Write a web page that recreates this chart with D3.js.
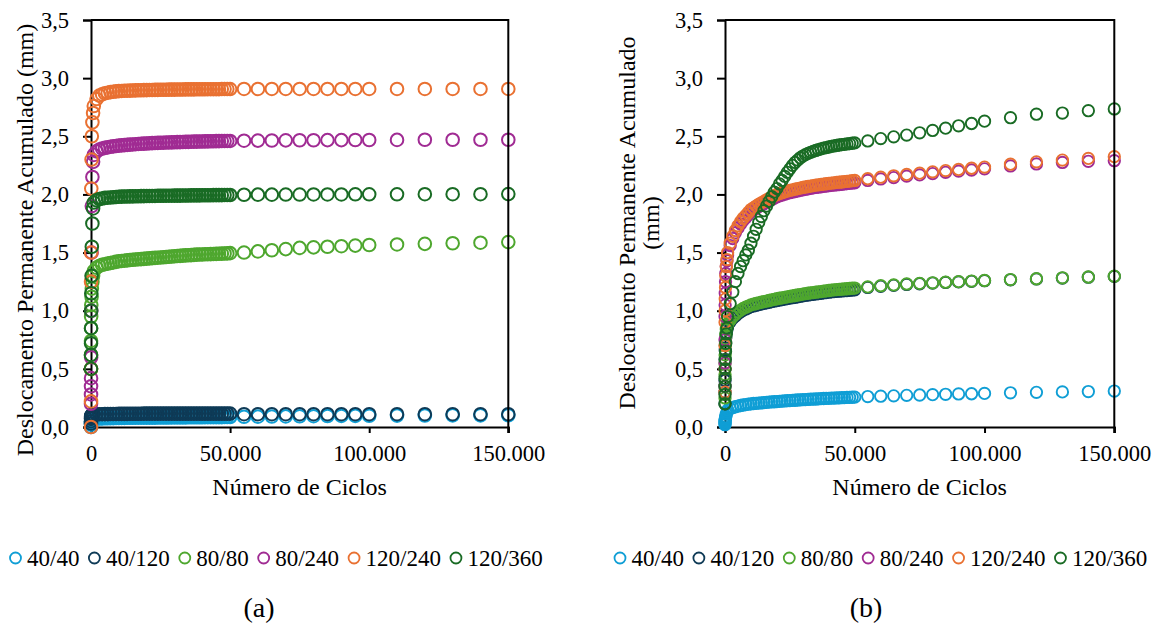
<!DOCTYPE html>
<html><head><meta charset="utf-8">
<script src="https://cdn.jsdelivr.net/npm/d3@7"></script>
<style>
body{margin:0;background:#fff}
svg{display:block}
text{font-family:"Liberation Serif","Times New Roman",serif;fill:#000}
</style>
</head><body>
<svg id="chart" width="1160" height="634"></svg>
<script>
// ---------------- DATA ----------------
const cycles = [1,5,10,20,50,100,200,300,500,750,
 1000,2000,3000,4000,5000,6000,7000,8000,9000,10000,
 11000,12000,13000,14000,15000,16000,17000,18000,19000,20000,
 21000,22000,23000,24000,25000,26000,27000,28000,29000,30000,
 31000,32000,33000,34000,35000,36000,37000,38000,39000,40000,
 41000,42000,43000,44000,45000,46000,47000,48000,49000,50000,
 55000,60000,65000,70000,75000,80000,85000,90000,95000,100000,
 110000,120000,130000,140000,150000];

const seriesNames = ["40/40","40/120","80/80","80/240","120/240","120/360"];
const seriesColors = ["#0F9ED5","#0E3A56","#4EA72E","#A02B93","#E97132","#196B24"];

// panel (a)
const a_40_40 = [0.00,0.02,0.03,0.04,0.05,0.055,0.06,0.062,0.065,0.068,
 0.070,0.072,0.073,0.074,0.075,0.075,0.076,0.076,0.077,0.077,
 0.078,0.078,0.079,0.079,0.079,0.080,0.080,0.080,0.080,0.081,
 0.081,0.081,0.081,0.082,0.082,0.082,0.082,0.082,0.083,0.083,
 0.083,0.083,0.083,0.083,0.084,0.084,0.084,0.084,0.084,0.084,
 0.085,0.085,0.085,0.085,0.085,0.085,0.085,0.086,0.086,0.086,
 0.088,0.089,0.090,0.091,0.092,0.093,0.094,0.095,0.096,0.097,
 0.098,0.099,0.100,0.100,0.101];
const a_40_120 = [0.03,0.05,0.07,0.08,0.09,0.095,0.10,0.102,0.105,0.107,
 0.108,0.109,0.110,0.110,0.111,0.111,0.112,0.112,0.112,0.113,
 0.113,0.113,0.113,0.114,0.114,0.114,0.114,0.114,0.115,0.115,
 0.115,0.115,0.115,0.115,0.115,0.115,0.115,0.115,0.115,0.115,
 0.115,0.115,0.115,0.115,0.115,0.115,0.115,0.115,0.115,0.115,
 0.115,0.115,0.115,0.115,0.115,0.115,0.115,0.115,0.115,0.115,
 0.110,0.110,0.110,0.110,0.110,0.110,0.110,0.110,0.110,0.110,
 0.110,0.110,0.110,0.110,0.110];
const a_80_80 = [0.50,0.62,0.74,0.85,0.95,1.05,1.12,1.19,1.25,1.30,
 1.340,1.370,1.385,1.395,1.400,1.405,1.410,1.415,1.420,1.425,
 1.428,1.430,1.433,1.436,1.438,1.440,1.442,1.444,1.446,1.448,
 1.450,1.452,1.454,1.456,1.458,1.460,1.462,1.464,1.466,1.468,
 1.470,1.472,1.474,1.476,1.477,1.478,1.480,1.482,1.483,1.484,
 1.485,1.486,1.487,1.488,1.489,1.490,1.491,1.492,1.493,1.495,
 1.500,1.510,1.520,1.530,1.540,1.545,1.550,1.555,1.560,1.565,
 1.570,1.575,1.580,1.585,1.590];
const a_80_240 = [0.20,0.28,0.35,0.42,0.60,1.00,1.50,1.90,2.15,2.28,
 2.340,2.370,2.385,2.395,2.400,2.405,2.410,2.413,2.416,2.420,
 2.422,2.424,2.426,2.428,2.430,2.432,2.434,2.436,2.437,2.438,
 2.440,2.441,2.442,2.443,2.444,2.445,2.446,2.447,2.448,2.449,
 2.450,2.450,2.451,2.452,2.452,2.453,2.454,2.454,2.455,2.455,
 2.456,2.456,2.457,2.457,2.458,2.458,2.459,2.459,2.460,2.460,
 2.462,2.463,2.464,2.465,2.466,2.466,2.467,2.467,2.468,2.468,
 2.469,2.470,2.470,2.470,2.470];
const a_120_240 = [0.00,0.22,0.50,1.25,1.50,2.05,2.30,2.50,2.62,2.70,
 2.760,2.820,2.850,2.860,2.870,2.875,2.880,2.883,2.886,2.888,
 2.890,2.891,2.892,2.893,2.894,2.895,2.896,2.896,2.897,2.897,
 2.898,2.898,2.899,2.899,2.900,2.900,2.900,2.901,2.901,2.901,
 2.902,2.902,2.902,2.903,2.903,2.903,2.903,2.904,2.904,2.904,
 2.904,2.905,2.905,2.905,2.905,2.905,2.906,2.906,2.906,2.906,
 2.907,2.907,2.907,2.907,2.907,2.907,2.907,2.907,2.907,2.907,
 2.907,2.907,2.907,2.907,2.907];
const a_120_360 = [0.50,0.62,0.72,0.85,1.00,1.15,1.30,1.55,1.75,1.88,
 1.930,1.950,1.960,1.965,1.970,1.972,1.974,1.976,1.978,1.980,
 1.981,1.982,1.982,1.983,1.983,1.984,1.984,1.985,1.985,1.986,
 1.986,1.987,1.987,1.988,1.988,1.988,1.989,1.989,1.989,1.990,
 1.990,1.990,1.991,1.991,1.991,1.992,1.992,1.992,1.992,1.993,
 1.993,1.993,1.993,1.994,1.994,1.994,1.994,1.995,1.995,1.995,
 1.997,1.998,1.998,1.999,1.999,2.000,2.000,2.000,2.001,2.001,
 2.001,2.002,2.002,2.002,2.003];

// panel (b)
const b_40_40 = [0.02,0.03,0.04,0.05,0.06,0.07,0.08,0.09,0.11,0.13,
 0.145,0.158,0.167,0.174,0.180,0.185,0.189,0.193,0.196,0.199,
 0.202,0.204,0.206,0.208,0.210,0.212,0.214,0.216,0.217,0.219,
 0.221,0.223,0.224,0.226,0.227,0.229,0.230,0.232,0.233,0.235,
 0.236,0.237,0.239,0.240,0.241,0.242,0.244,0.245,0.246,0.247,
 0.248,0.249,0.250,0.251,0.252,0.253,0.254,0.255,0.256,0.257,
 0.262,0.265,0.268,0.272,0.275,0.278,0.281,0.284,0.286,0.289,
 0.294,0.298,0.302,0.305,0.309];
const b_40_120 = [0.20,0.30,0.40,0.50,0.58,0.66,0.72,0.77,0.81,0.84,
 0.865,0.905,0.935,0.955,0.975,0.990,1.005,1.015,1.025,1.035,
 1.041,1.047,1.053,1.058,1.063,1.068,1.073,1.078,1.083,1.088,
 1.092,1.096,1.100,1.104,1.108,1.112,1.116,1.120,1.124,1.128,
 1.132,1.135,1.138,1.141,1.144,1.147,1.150,1.153,1.156,1.159,
 1.162,1.164,1.166,1.168,1.170,1.172,1.174,1.176,1.178,1.180,
 1.200,1.210,1.218,1.226,1.232,1.238,1.243,1.248,1.253,1.258,
 1.266,1.273,1.281,1.288,1.295];
const b_80_80 = [0.25,0.35,0.45,0.55,0.62,0.70,0.76,0.80,0.84,0.87,
 0.880,0.920,0.950,0.970,0.990,1.005,1.020,1.030,1.040,1.050,
 1.056,1.062,1.068,1.073,1.078,1.083,1.088,1.093,1.098,1.103,
 1.107,1.111,1.115,1.119,1.123,1.127,1.131,1.135,1.139,1.143,
 1.147,1.150,1.153,1.156,1.159,1.162,1.165,1.168,1.171,1.174,
 1.177,1.179,1.181,1.183,1.185,1.187,1.189,1.191,1.193,1.195,
 1.205,1.215,1.222,1.230,1.235,1.240,1.245,1.250,1.255,1.260,
 1.268,1.275,1.283,1.290,1.297];
const b_80_240 = [0.35,0.55,0.75,0.95,1.05,1.15,1.25,1.32,1.38,1.43,
 1.480,1.560,1.620,1.670,1.710,1.745,1.775,1.800,1.825,1.850,
 1.865,1.880,1.895,1.908,1.920,1.933,1.945,1.957,1.969,1.980,
 1.988,1.995,2.002,2.009,2.015,2.020,2.025,2.030,2.035,2.040,
 2.044,2.048,2.052,2.056,2.060,2.063,2.066,2.069,2.072,2.075,
 2.078,2.080,2.083,2.085,2.087,2.090,2.093,2.095,2.098,2.100,
 2.120,2.133,2.145,2.157,2.168,2.179,2.190,2.200,2.210,2.220,
 2.245,2.262,2.275,2.285,2.290];
const b_120_240 = [0.30,0.50,0.70,0.90,1.00,1.10,1.20,1.30,1.38,1.44,
 1.500,1.580,1.640,1.690,1.730,1.765,1.795,1.820,1.845,1.870,
 1.885,1.900,1.915,1.928,1.940,1.953,1.965,1.977,1.989,2.000,
 2.008,2.015,2.022,2.029,2.035,2.040,2.045,2.050,2.055,2.060,
 2.064,2.068,2.072,2.076,2.080,2.083,2.086,2.089,2.092,2.095,
 2.098,2.100,2.103,2.105,2.107,2.110,2.113,2.115,2.118,2.120,
 2.135,2.148,2.160,2.172,2.183,2.194,2.205,2.215,2.225,2.235,
 2.260,2.280,2.295,2.310,2.325];
const b_120_360 = [0.20,0.28,0.35,0.42,0.50,0.58,0.65,0.72,0.80,0.85,
 0.950,1.060,1.160,1.250,1.320,1.380,1.430,1.480,1.520,1.580,
 1.640,1.700,1.760,1.810,1.860,1.900,1.940,1.980,2.020,2.050,
 2.090,2.120,2.155,2.190,2.220,2.250,2.275,2.295,2.315,2.330,
 2.342,2.353,2.362,2.370,2.378,2.385,2.392,2.398,2.403,2.408,
 2.413,2.417,2.421,2.425,2.428,2.431,2.434,2.437,2.440,2.443,
 2.460,2.480,2.495,2.510,2.530,2.550,2.570,2.590,2.610,2.630,
 2.660,2.690,2.700,2.720,2.735];

const yTicks = [0,0.5,1,1.5,2,2.5,3,3.5];
const xTicks = [0,50000,100000,150000];
const xTitle = "Número de Ciclos";
const yTitleA = ["Deslocamento Permanente Acumulado (mm)"];
const yTitleB = ["Deslocamento Permanente Acumulado","(mm)"];
const captions = ["(a)","(b)"];

// ---------------- DRAW ----------------
const loc = d3.formatLocale({decimal:",", thousands:".", grouping:[3], currency:["",""]});
const fy = loc.format(".1f"), fx = loc.format(",d");
const svg = d3.select("#chart");

function panel(cfg){
  const x = d3.scaleLinear().domain([0,150000]).range([cfg.x0,cfg.x1]);
  const y = d3.scaleLinear().domain([0,3.5]).range([cfg.yB,cfg.yT]);
  const g = svg.append("g");

  // axes (under the points)
  const ay = g.append("g").attr("transform",`translate(${cfg.x0},0)`)
    .call(d3.axisLeft(y).tickValues(yTicks).tickFormat(fy).tickSize(8).tickPadding(14));
  const ax = g.append("g").attr("transform",`translate(0,${cfg.yB})`)
    .call(d3.axisBottom(x).tickValues(xTicks).tickFormat(fx).tickSize(6).tickPadding(12.5));
  [ay,ax].forEach(a=>{
    a.selectAll("path.domain").attr("stroke","#000").attr("stroke-width",2);
    a.selectAll(".tick line").attr("stroke","#000").attr("stroke-width",2);
    a.selectAll(".tick text").attr("font-size","22.5px")
      .attr("font-family",'"Liberation Serif","Times New Roman",serif').attr("fill","#000");
  });

  // points
  cfg.series.forEach((vals,si)=>{
    g.append("g").selectAll("circle").data(vals).join("circle")
      .attr("cx",(d,i)=>x(cycles[i])).attr("cy",d=>y(d))
      .attr("r",cfg.r).attr("fill","none")
      .attr("stroke",seriesColors[si]).attr("stroke-width",cfg.sw);
  });

  // top & right border
  g.append("path").attr("d",`M${cfg.x0},${cfg.yT}H${cfg.x1}V${cfg.yB+6}`)
    .attr("fill","none").attr("stroke","#000").attr("stroke-width",2);

  // x title
  g.append("text").attr("x",(cfg.x0+cfg.x1)/2).attr("y",495)
    .attr("text-anchor","middle").attr("font-size","24px").text(xTitle);

  // y title
  cfg.yTitle.forEach((t,k)=>{
    g.append("text").attr("transform",`translate(${cfg.ytX[k]},${cfg.ytY}) rotate(-90)`)
      .attr("text-anchor","middle").attr("font-size","24px").text(t);
  });

  // legend
  let cx = cfg.legX;
  seriesNames.forEach((n,si)=>{
    g.append("circle").attr("cx",cx).attr("cy",cfg.legY).attr("r",5.5)
      .attr("fill","none").attr("stroke",seriesColors[si]).attr("stroke-width",1.8);
    const t = g.append("text").attr("x",cx+11.5).attr("y",cfg.legY+8)
      .attr("font-size","23px").text(n);
    cx = cx + 11.5 + t.node().getComputedTextLength() + 15;
  });

  // caption
  g.append("text").attr("x",cfg.capX).attr("y",617).attr("text-anchor","middle")
    .attr("font-size","28px").text(cfg.caption);
}

panel({x0:91,x1:508.3,yT:20,yB:427,r:6.3,sw:2,
  series:[a_40_40,a_40_120,a_80_80,a_80_240,a_120_240,a_120_360],
  yTitle:yTitleA, ytX:[33], ytY:240, legX:15.5, legY:558, capX:259, caption:captions[0]});
panel({x0:725,x1:1114.3,yT:20,yB:427,r:5.7,sw:1.9,
  series:[b_40_40,b_40_120,b_80_80,b_80_240,b_120_240,b_120_360],
  yTitle:yTitleB, ytX:[635,659], ytY:223, legX:620, legY:558, capX:866, caption:captions[1]});
</script>
</body></html>
